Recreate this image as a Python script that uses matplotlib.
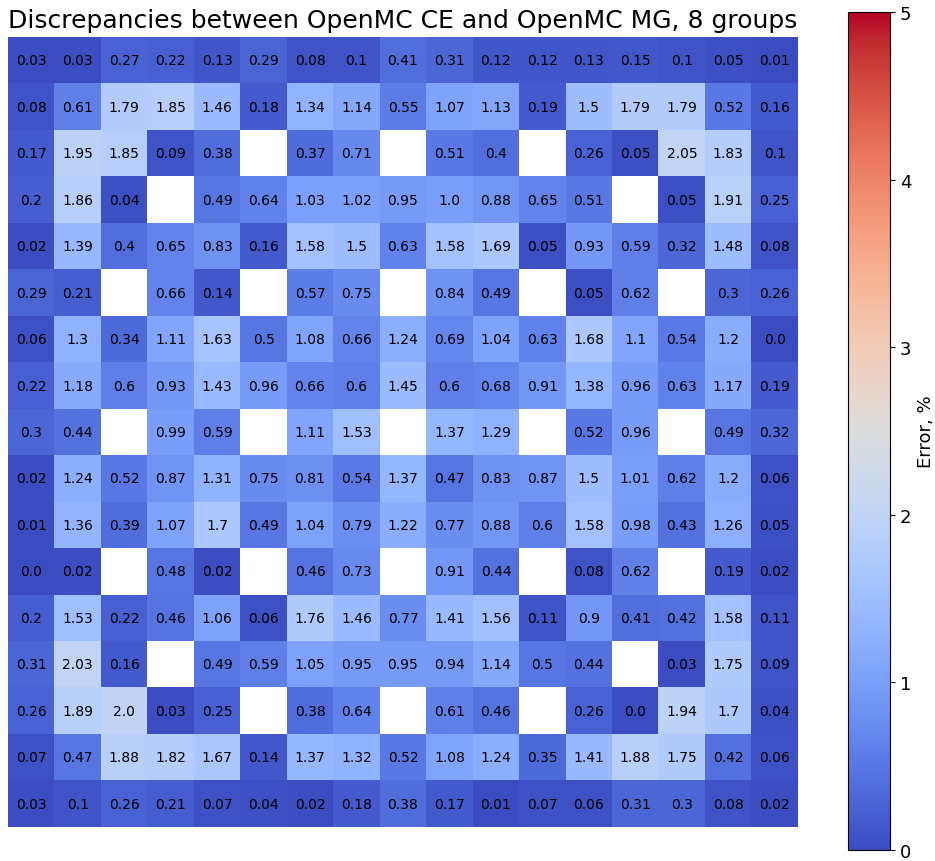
import numpy as np
import matplotlib
matplotlib.use("Agg")
import matplotlib.pyplot as plt

nan = np.nan
rows = [
    [0.03, 0.03, 0.27, 0.22, 0.13, 0.29, 0.08, 0.1, 0.41, 0.31, 0.12, 0.12, 0.13, 0.15, 0.1, 0.05, 0.01],
    [0.08, 0.61, 1.79, 1.85, 1.46, 0.18, 1.34, 1.14, 0.55, 1.07, 1.13, 0.19, 1.5, 1.79, 1.79, 0.52, 0.16],
    [0.17, 1.95, 1.85, 0.09, 0.38, nan, 0.37, 0.71, nan, 0.51, 0.4, nan, 0.26, 0.05, 2.05, 1.83, 0.1],
    [0.2, 1.86, 0.04, nan, 0.49, 0.64, 1.03, 1.02, 0.95, 1.0, 0.88, 0.65, 0.51, nan, 0.05, 1.91, 0.25],
    [0.02, 1.39, 0.4, 0.65, 0.83, 0.16, 1.58, 1.5, 0.63, 1.58, 1.69, 0.05, 0.93, 0.59, 0.32, 1.48, 0.08],
    [0.29, 0.21, nan, 0.66, 0.14, nan, 0.57, 0.75, nan, 0.84, 0.49, nan, 0.05, 0.62, nan, 0.3, 0.26],
    [0.06, 1.3, 0.34, 1.11, 1.63, 0.5, 1.08, 0.66, 1.24, 0.69, 1.04, 0.63, 1.68, 1.1, 0.54, 1.2, 0.0],
    [0.22, 1.18, 0.6, 0.93, 1.43, 0.96, 0.66, 0.6, 1.45, 0.6, 0.68, 0.91, 1.38, 0.96, 0.63, 1.17, 0.19],
    [0.3, 0.44, nan, 0.99, 0.59, nan, 1.11, 1.53, nan, 1.37, 1.29, nan, 0.52, 0.96, nan, 0.49, 0.32],
    [0.02, 1.24, 0.52, 0.87, 1.31, 0.75, 0.81, 0.54, 1.37, 0.47, 0.83, 0.87, 1.5, 1.01, 0.62, 1.2, 0.06],
    [0.01, 1.36, 0.39, 1.07, 1.7, 0.49, 1.04, 0.79, 1.22, 0.77, 0.88, 0.6, 1.58, 0.98, 0.43, 1.26, 0.05],
    [0.0, 0.02, nan, 0.48, 0.02, nan, 0.46, 0.73, nan, 0.91, 0.44, nan, 0.08, 0.62, nan, 0.19, 0.02],
    [0.2, 1.53, 0.22, 0.46, 1.06, 0.06, 1.76, 1.46, 0.77, 1.41, 1.56, 0.11, 0.9, 0.41, 0.42, 1.58, 0.11],
    [0.31, 2.03, 0.16, nan, 0.49, 0.59, 1.05, 0.95, 0.95, 0.94, 1.14, 0.5, 0.44, nan, 0.03, 1.75, 0.09],
    [0.26, 1.89, 2.0, 0.03, 0.25, nan, 0.38, 0.64, nan, 0.61, 0.46, nan, 0.26, 0.0, 1.94, 1.7, 0.04],
    [0.07, 0.47, 1.88, 1.82, 1.67, 0.14, 1.37, 1.32, 0.52, 1.08, 1.24, 0.35, 1.41, 1.88, 1.75, 0.42, 0.06],
    [0.03, 0.1, 0.26, 0.21, 0.07, 0.04, 0.02, 0.18, 0.38, 0.17, 0.01, 0.07, 0.06, 0.31, 0.3, 0.08, 0.02],
]
data = np.array(rows, dtype=float)
title = "Discrepancies between OpenMC CE and OpenMC MG, 8 groups"
cbar_label = "Error, %"

W, H = 935, 862
fig = plt.figure(figsize=(W / 100, H / 100), dpi=100)
ax = fig.add_axes([8 / W, (H - 828) / H, 790 / W, 790 / H])
cax = fig.add_axes([848 / W, (H - 851) / H, 42 / W, 838 / H])

im = ax.imshow(data, cmap="coolwarm", vmin=0, vmax=5, aspect="auto")
for i in range(data.shape[0]):
    for j in range(data.shape[1]):
        v = data[i, j]
        if not np.isnan(v):
            ax.text(j, i, str(round(v, 2)), ha="center", va="center",
                    fontsize=10, color="black")
ax.set_xticks([])
ax.set_yticks([])
for s in ax.spines.values():
    s.set_visible(False)
ax.set_title(title, fontsize=18, pad=7)

cb = fig.colorbar(im, cax=cax)
cb.set_ticks([0, 1, 2, 3, 4, 5])
cb.ax.tick_params(labelsize=13)
cb.set_label(cbar_label, fontsize=13)

fig.savefig("out.png", dpi=100)
